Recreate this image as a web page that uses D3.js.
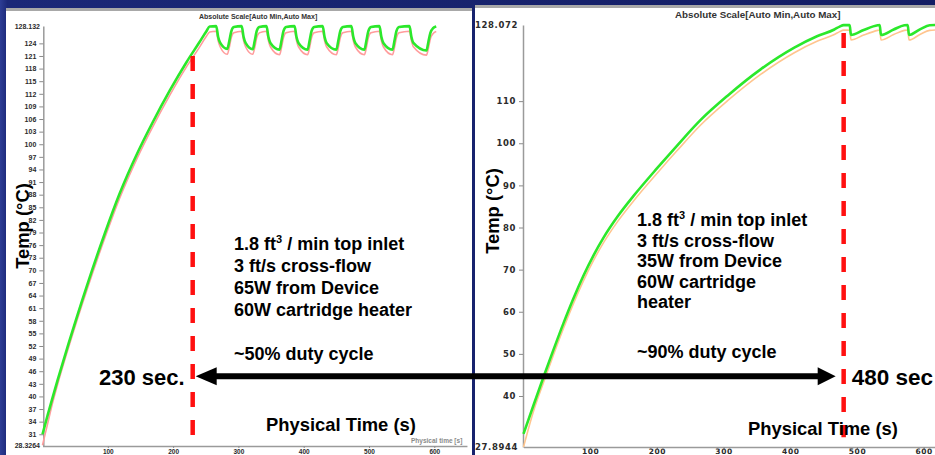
<!DOCTYPE html>
<html>
<head>
<meta charset="utf-8">
<script src="https://cdn.jsdelivr.net/npm/d3@7"></script>
<style>
  html, body { margin: 0; padding: 0; background: #16216d; overflow: hidden; }
  svg { display: block; }
</style>
</head>
<body>
<svg id="chart" width="935" height="455"></svg>
<script>
// ---- Left run: 65 W device, 60 W cartridge heater (time in s, temperature in °C)
const leftTime = [0, 8, 15, 23, 40, 69, 95, 118, 145, 168, 195, 220, 240, 251, 256, 266,
  269, 272, 283, 286, 289, 293, 305,
  308, 311, 322, 325, 328, 332, 343,
  346, 349, 363, 366, 369, 373, 386,
  389, 392, 406, 409, 412, 416, 429,
  432, 435, 450, 453, 456, 460, 473,
  476, 479, 493, 496, 499, 503, 516,
  519, 522, 536, 539, 542, 546, 562,
  565, 568, 588, 591, 594, 598, 603];
const leftProbeA = [31.0, 35.6, 39.5, 43.8, 52.6, 66.8, 78.6, 88.2, 97.8, 105.0, 112.8, 119.4, 124.2, 126.9, 128.0, 128.1,
  125.5, 124.2, 122.7, 124.5, 126.8, 127.9, 128.1,
  125.5, 124.1, 122.6, 124.6, 126.9, 127.9, 128.1,
  125.5, 124.1, 122.5, 124.6, 126.9, 127.9, 128.1,
  125.5, 124.1, 122.5, 124.6, 126.9, 127.9, 128.1,
  125.5, 124.1, 122.5, 124.6, 126.9, 127.9, 128.1,
  125.5, 124.1, 122.5, 124.6, 126.9, 127.9, 128.1,
  125.5, 124.1, 122.5, 124.6, 126.9, 127.9, 128.1,
  125.5, 124.1, 122.3, 124.4, 126.5, 127.6, 128.0];
const leftProbeB = [28.4, 33.6, 38.2, 42.8, 51.7, 65.8, 77.5, 87.1, 96.7, 103.9, 111.7, 118.3, 123.0, 125.7, 126.7, 126.9,
  124.6, 123.2, 121.4, 123.0, 125.3, 126.5, 126.9,
  124.6, 123.2, 121.4, 123.0, 125.3, 126.5, 126.9,
  124.6, 123.2, 121.3, 123.0, 125.3, 126.5, 126.9,
  124.6, 123.2, 121.3, 123.0, 125.3, 126.5, 126.9,
  124.6, 123.2, 121.3, 123.0, 125.3, 126.5, 126.9,
  124.6, 123.2, 121.3, 123.0, 125.3, 126.5, 126.9,
  124.6, 123.2, 121.3, 123.0, 125.3, 126.5, 126.9,
  124.6, 123.2, 121.2, 122.9, 125.1, 126.3, 126.8];

// ---- Right run: 35 W device, 60 W cartridge heater
const rightTime = [0, 15, 30, 45, 60, 75, 90, 105, 120, 141, 165, 201, 230, 266, 306, 356, 406, 440, 466, 474,
  480, 489, 491, 510, 531, 534,
  536, 555, 571, 576,
  578, 595, 609, 620];
const rightProbeA = [31.0, 37.8, 44.5, 51.0, 57.3, 63.2, 68.6, 73.4, 77.6, 82.6, 87.5, 94.2, 99.4, 105.6, 111.3, 117.6, 122.7, 125.4, 127.0, 127.7,
  128.05, 128.07, 125.7, 126.9, 128.0, 128.07,
  125.7, 127.0, 128.0, 128.07,
  125.7, 127.1, 128.0, 128.07];
const rightProbeB = [27.9, 36.4, 43.2, 49.8, 56.1, 62.0, 67.4, 72.2, 76.4, 81.4, 86.3, 93.0, 98.2, 104.4, 110.1, 116.4, 121.5, 124.2, 125.8, 126.5,
  126.85, 126.9, 124.5, 125.7, 126.8, 126.9,
  124.5, 125.8, 126.8, 126.9,
  124.5, 125.9, 126.8, 126.9];

// ---- Axis ticks
const leftYTicks = [31, 34, 37, 40, 43, 46, 49, 52, 55, 58, 61, 64, 67, 70, 73, 76, 79, 82, 85, 88,
  91, 94, 97, 100, 103, 106, 109, 112, 115, 118, 121, 124];
const leftYRange = [28.3264, 128.132];
const rightYTicks = [40, 50, 60, 70, 80, 90, 100, 110];
const rightYRange = [27.8944, 128.072];
const timeTicks = [100, 200, 300, 400, 500, 600];

// ---- Annotations
const leftNotes = ["3 ft/s cross-flow", "65W from Device", "60W cartridge heater"];
const leftDuty = "~50% duty cycle";
const rightNotes = ["3 ft/s cross-flow", "35W from Device", "60W cartridge", "heater"];
const rightDuty = "~90% duty cycle";
const markerTimes = [230, 480];           // s, end of warm-up in each run
const markerLabels = ["230 sec.", "480 sec"];
const arrowLevel = 44.8;                  // °C on the left scale

const svg = d3.select("#chart");
const defs = svg.append("defs");
const grad = defs.append("linearGradient").attr("id", "slideBg")
  .attr("x1", 0).attr("x2", 1).attr("y1", 0).attr("y2", 0);
grad.append("stop").attr("offset", 0).attr("stop-color", "#2d3d95");
grad.append("stop").attr("offset", 0.008).attr("stop-color", "#1b2878");
grad.append("stop").attr("offset", 1).attr("stop-color", "#131d63");
svg.append("rect").attr("width", 935).attr("height", 455).attr("fill", "url(#slideBg)");

// Plot panels
function panel(x, y, w, h) {
  svg.append("rect").attr("x", x).attr("y", y).attr("width", w).attr("height", h).attr("fill", "#fff");
  svg.append("rect").attr("x", x).attr("y", y).attr("width", w).attr("height", 3).attr("fill", "#a8a8a8");
}
panel(6, 8, 466, 447);
panel(475, 5, 460, 450);

// Scales
const xL = d3.scaleLinear().domain([0, 650]).range([42.5, 42.5 + 650 * 0.653]);
const yL = d3.scaleLinear().domain(leftYRange).range([445.5, 26]);
const xR = d3.scaleLinear().domain([0, 620]).range([523.5, 523.5 + 620 * 0.667]);
const yR = d3.scaleLinear().domain(rightYRange).range([447, 25]);

function styleAxis(g, font, size, spacing) {
  g.select(".domain").attr("stroke", "#9a9a9a").attr("stroke-width", 1.5);
  g.selectAll(".tick line").attr("stroke", "#8a8a8a");
  g.selectAll(".tick text").attr("fill", "#2b2b2b").attr("font-family", font)
    .attr("font-weight", "bold").attr("font-size", size).attr("letter-spacing", spacing);
}

// Left axes
const gLy = svg.append("g").attr("transform", "translate(43.3,0)")
  .call(d3.axisLeft(yL).tickValues(leftYTicks).tickSize(4).tickSizeOuter(0).tickPadding(3).tickFormat(d3.format("d")));
styleAxis(gLy, "Liberation Sans, Arial, sans-serif", 7, 0);
svg.append("g").selectAll("text").data(leftYRange).join("text")
  .attr("x", 40).attr("y", d => yL(d) + 2.5).attr("text-anchor", "end")
  .attr("font-family", "Liberation Sans, Arial, sans-serif").attr("font-weight", "bold")
  .attr("font-size", 7).attr("fill", "#2b2b2b").text(d => d);
const gLx = svg.append("g").attr("transform", "translate(0,446)")
  .call(d3.axisBottom(xL).tickValues(timeTicks).tickSize(2).tickSizeOuter(0).tickPadding(1));
styleAxis(gLx, "Liberation Sans, Arial, sans-serif", 6.5, 0);
svg.append("text").attr("x", 411).attr("y", 443).attr("font-family", "Liberation Sans, Arial, sans-serif")
  .attr("font-size", 6.5).attr("font-weight", "bold").attr("fill", "#8a8a8a").text("Physical time [s]");

// Right axes
const gRy = svg.append("g").attr("transform", "translate(523,0)")
  .call(d3.axisLeft(yR).tickValues(rightYTicks).tickSize(4).tickSizeOuter(0).tickPadding(3).tickFormat(d3.format("d")));
styleAxis(gRy, "DejaVu Sans, sans-serif", 8.5, 0.6);
svg.append("g").selectAll("text").data(rightYRange).join("text")
  .attr("x", 518).attr("y", d => yR(d) + 3).attr("text-anchor", "end")
  .attr("font-family", "DejaVu Sans, sans-serif").attr("font-weight", "bold").attr("letter-spacing", 0.6)
  .attr("font-size", 8.5).attr("fill", "#2b2b2b").text(d => d);
const gRx = svg.append("g").attr("transform", "translate(0,447)")
  .call(d3.axisBottom(xR).tickValues(timeTicks).tickSize(2).tickSizeOuter(0).tickPadding(0));
styleAxis(gRx, "DejaVu Sans, sans-serif", 7.5, 0.6);

// Panel captions
svg.append("text").attr("x", 199).attr("y", 19).attr("font-family", "Liberation Sans, Arial, sans-serif")
  .attr("font-size", 7).attr("font-weight", "bold").attr("fill", "#333").text("Absolute Scale[Auto Min,Auto Max]");
svg.append("text").attr("x", 675).attr("y", 18).attr("font-family", "Liberation Sans, Arial, sans-serif")
  .attr("font-size", 9.8).attr("font-weight", "bold").attr("fill", "#333").text("Absolute Scale[Auto Min,Auto Max]");

// Temperature traces
function trace(times, values, x, y, color, width) {
  const line = d3.line().x((d, i) => x(times[i])).y(d => y(d)).curve(d3.curveMonotoneX);
  svg.append("path").attr("d", line(values)).attr("fill", "none")
    .attr("stroke", color).attr("stroke-width", width).attr("stroke-linejoin", "round");
}
trace(leftTime, leftProbeB, xL, yL, "#ff9c9c", 1.6);
trace(leftTime, leftProbeA, xL, yL, "#2be82b", 2.6);
trace(rightTime, rightProbeB, xR, yR, "#ffc58e", 1.6);
trace(rightTime, rightProbeA, xR, yR, "#2be82b", 2.6);

// End-of-warm-up markers
const markerX = [xL(markerTimes[0]), xR(markerTimes[1])];
const markerTop = [yL(121.0), yR(126.2)];
const markerBottom = [yL(30.3), yR(30.2)];
markerX.forEach((mx, i) => {
  svg.append("line").attr("x1", mx).attr("x2", mx).attr("y1", markerTop[i]).attr("y2", markerBottom[i])
    .attr("stroke", "#ff1010").attr("stroke-width", 4.5).attr("stroke-dasharray", "15,13");
});

// Axis titles
const bold = "Liberation Sans, Arial, sans-serif";
[[28.5, 226], [498.5, 211]].forEach(([tx, ty]) => {
  svg.append("text").attr("transform", `translate(${tx},${ty}) rotate(-90)`).attr("text-anchor", "middle")
    .attr("font-family", bold).attr("font-weight", "bold").attr("font-size", 18.4).attr("fill", "#000")
    .text("Temp (°C)");
});
[[266, 431], [748, 435]].forEach(([tx, ty]) => {
  svg.append("text").attr("x", tx).attr("y", ty).attr("font-family", bold).attr("font-weight", "bold")
    .attr("font-size", 18.4).attr("fill", "#000").text("Physical Time (s)");
});

// Test-condition notes
function notes(x, baselines, rest, duty, dutyY) {
  const first = svg.append("text").attr("x", x).attr("y", baselines[0]).attr("font-family", bold)
    .attr("font-weight", "bold").attr("font-size", 18).attr("fill", "#000");
  first.append("tspan").text("1.8 ft");
  first.append("tspan").attr("font-size", 11).attr("dy", -7).text("3");
  first.append("tspan").attr("dy", 7).text(" / min top inlet");
  rest.forEach((t, i) => {
    svg.append("text").attr("x", x).attr("y", baselines[i + 1]).attr("font-family", bold)
      .attr("font-weight", "bold").attr("font-size", 18).attr("fill", "#000").text(t);
  });
  svg.append("text").attr("x", x).attr("y", dutyY).attr("font-family", bold)
    .attr("font-weight", "bold").attr("font-size", 18).attr("fill", "#000").text(duty);
}
notes(234, [249.5, 271.5, 293.5, 315.5], leftNotes, leftDuty, 360);
notes(637, [226, 246.5, 267, 287.5, 308], rightNotes, rightDuty, 358);

// Double-headed arrow between the two markers
const ay = yL(arrowLevel);
const ax0 = markerX[0] + 3, ax1 = markerX[1] - 8;
svg.append("line").attr("x1", ax0 + 15).attr("x2", ax1 - 15).attr("y1", ay).attr("y2", ay)
  .attr("stroke", "#000").attr("stroke-width", 6);
svg.append("path").attr("d", `M${ax0},${ay} L${ax0 + 21},${ay - 9} L${ax0 + 21},${ay + 9} Z`).attr("fill", "#000");
svg.append("path").attr("d", `M${ax1},${ay} L${ax1 - 18},${ay - 9} L${ax1 - 18},${ay + 9} Z`).attr("fill", "#000");

// Marker labels
svg.append("text").attr("x", markerX[0] - 8).attr("y", 384.5).attr("text-anchor", "end")
  .attr("font-family", bold).attr("font-weight", "bold").attr("font-size", 22).attr("fill", "#000").text(markerLabels[0]);
svg.append("text").attr("x", markerX[1] + 8).attr("y", 384.5)
  .attr("font-family", bold).attr("font-weight", "bold").attr("font-size", 22.5).attr("fill", "#000").text(markerLabels[1]);
</script>
</body>
</html>
